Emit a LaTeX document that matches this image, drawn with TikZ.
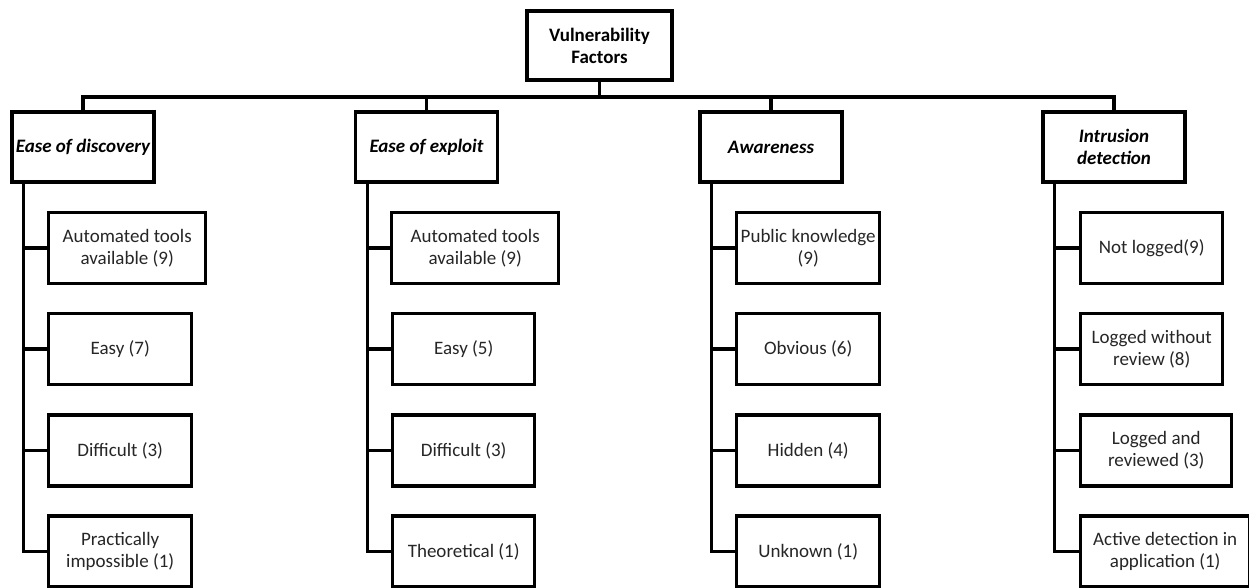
\documentclass[tikz,border=0pt]{standalone}
\usepackage{fontspec}
\setmainfont{Carlito}
\begin{document}
\begin{tikzpicture}[x=1pt,y=-1pt,
  box/.style={draw=black, line width=3.4pt, fill=white, inner sep=0pt, align=center,
              font=\fontsize{19}{22}\selectfont, text=black!85},
  leaf/.style={box, anchor=west, minimum height=71pt},
  head/.style={box, minimum width=142pt, minimum height=70pt,
               font=\fontsize{19}{22}\selectfont\bfseries\itshape, text=black},
  link/.style={line width=3.2pt, line cap=rect}]
\useasboundingbox (0,0) rectangle (1249,587);

% root
\node[box, minimum width=145pt, minimum height=69pt,
      font=\fontsize{19}{22}\selectfont\bfseries, text=black]
  (root) at (599.5,45.5) {Vulnerability\\Factors};

% factor headers
\node[head] (h1) at (83,147)    {Ease of discovery};
\node[head] (h2) at (426.5,147) {Ease of exploit};
\node[head] (h3) at (771,147)   {Awareness};
\node[head] (h4) at (1114,147)  {Intrusion\\detection};

% ratings: ease of discovery
\node[leaf, minimum width=157pt] (a1) at (47,248)   {Automated tools\\available (9)};
\node[leaf, minimum width=143pt] (a2) at (47,349)   {Easy (7)};
\node[leaf, minimum width=143pt] (a3) at (47,450.5) {Difficult (3)};
\node[leaf, minimum width=143pt] (a4) at (47,551.5) {Practically\\impossible (1)};

% ratings: ease of exploit
\node[leaf, minimum width=167pt] (b1) at (390,248)   {Automated tools\\available (9)};
\node[leaf, minimum width=142pt] (b2) at (391,349)   {Easy (5)};
\node[leaf, minimum width=142pt] (b3) at (391,450.5) {Difficult (3)};
\node[leaf, minimum width=142pt] (b4) at (391,551.5) {Theoretical (1)};

% ratings: awareness
\node[leaf, minimum width=143pt] (c1) at (735,248)   {Public knowledge\\(9)};
\node[leaf, minimum width=143pt] (c2) at (735,349)   {Obvious (6)};
\node[leaf, minimum width=143pt] (c3) at (735,450.5) {Hidden (4)};
\node[leaf, minimum width=143pt] (c4) at (735,551.5) {Unknown (1)};

% ratings: intrusion detection
\node[leaf, minimum width=142pt] (d1) at (1079,248)   {Not logged(9)};
\node[leaf, minimum width=142pt] (d2) at (1079,349)   {Logged without\\review (8)};
\node[leaf, minimum width=151pt] (d3) at (1079,450.5) {Logged and\\reviewed (3)};
\node[leaf, minimum width=169pt] (d4) at (1079,551.5) {Active detection in\\application (1)};

% bus from the root to the four headers
\coordinate (bus) at (0,97);
\draw[link] (root.south) -- (root.south |- bus);
\draw[link] (h1.north) -- (h1.north |- bus) -- (h4.north |- bus) -- (h4.north);
\draw[link] (h2.north) -- (h2.north |- bus);
\draw[link] (h3.north) -- (h3.north |- bus);

% trunks from each header to its ratings
\foreach \h/\k in {h1/a, h2/b, h3/c, h4/d}{
  \foreach \i in {1,2,3,4}{
    \draw[link] ([xshift=13.5pt]\h.south west) |- (\k\i.west);
  }
}
\end{tikzpicture}
\end{document}
